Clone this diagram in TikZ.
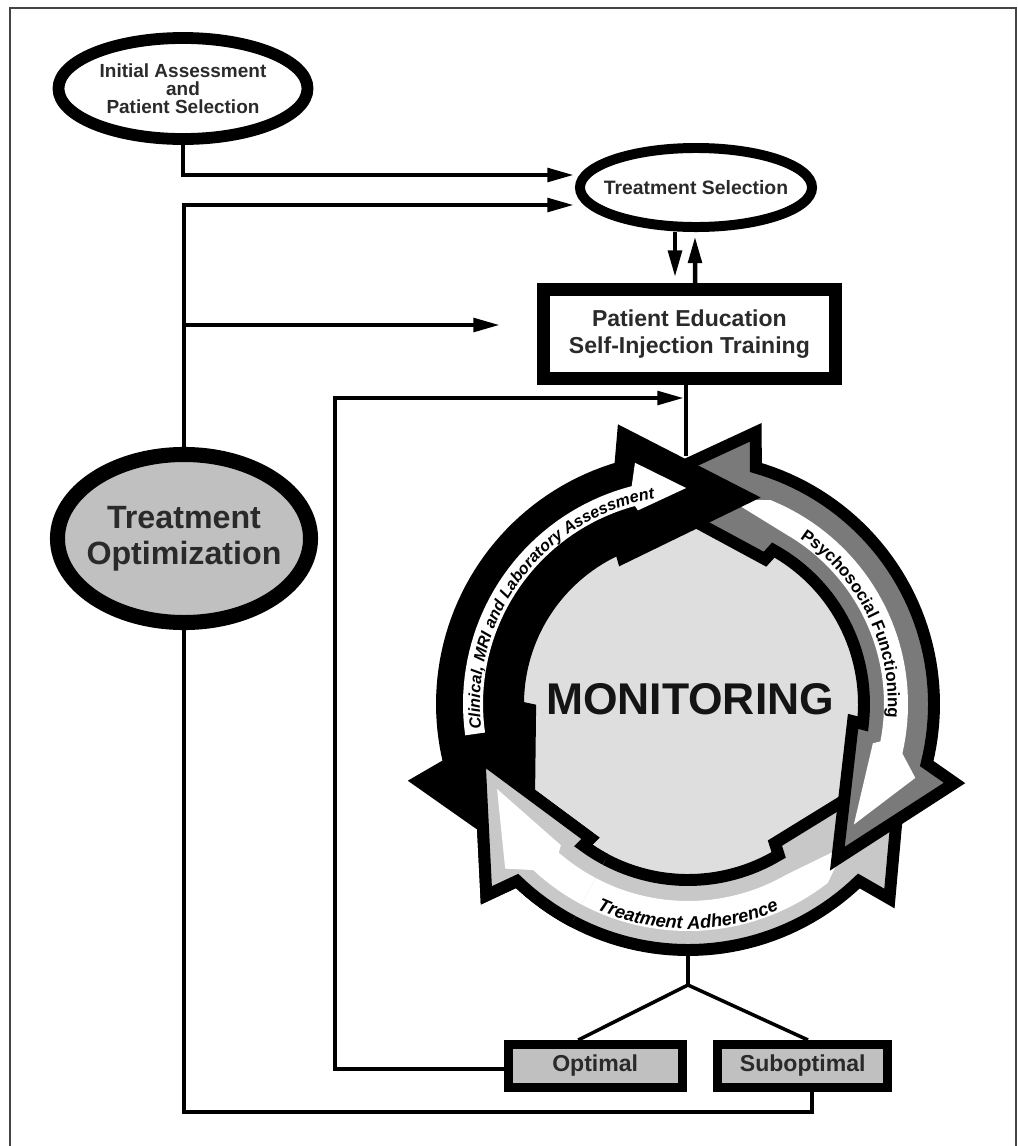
\documentclass[tikz,border=0pt]{standalone}
\usepackage{fontspec}
\setmainfont{Liberation Sans}
\usetikzlibrary{arrows.meta,shapes.geometric,decorations.text,calc}
\definecolor{txt}{HTML}{2A2A2A}
\definecolor{dgray}{HTML}{7A7A7A}
\definecolor{lgray}{HTML}{C8C8C8}
\definecolor{discgray}{HTML}{DEDEDE}
\definecolor{nodefill}{HTML}{C0C0C0}
\definecolor{framecol}{HTML}{444444}
% outline of one curved arrow (offset angle, inner radius); angles grow clockwise on screen
\newcommand{\ArrPath}[2]{%
  ({#1+254}:246) -- plot[domain=0:88,samples=45] ({#1+254-\x}:246)
  -- ({#1+164}:280) -- ({#1+136}:222) -- ({#1+178}:{#2-12}) -- ({#1+179}:#2)
  -- plot[domain=0:67.5,samples=35] ({#1+179+\x}:#2)
  -- ({#1+246}:{#2-10}) -- ({#1+286}:215) -- ({#1+256.5}:278) -- cycle}
% white inner band of a grey arrow (offset, inner r, outer r)
\newcommand{\WhitePath}[3]{%
  ({#1+172}:#3) -- plot[domain=0:81,samples=40] ({#1+172+\x}:#3)
  -- ({#1+258}:{#3+19}) -- ({#1+276}:{(#2+#3)/2-3}) -- ({#1+252}:{#2-7}) -- ({#1+251}:#2)
  -- plot[domain=0:71,samples=40] ({#1+251-\x}:#2) -- ({#1+162}:{(#2+#3)/2}) -- cycle}
\begin{document}
\begin{tikzpicture}[x=0.025cm,y=-0.025cm,
  conn/.style={line width=3.2pt},
  tipped/.style={-{Triangle[length=19pt,width=9.5pt]}},
  lbl/.style={text=txt,align=center,inner sep=0pt},
  ring/.style={draw=black,line width=8.5pt,miter limit=6}]
\useasboundingbox (0,0) rectangle (1018,1146);
\draw[framecol,line width=1.1pt] (10,1146) -- (10,8) -- (1016,8) -- (1016,1146);

% ---- nodes
\node[ellipse,draw,line width=8.4pt,minimum width=6.225cm,minimum height=2.525cm,inner sep=0pt,
  label={[lbl,font=\bfseries\fontsize{13.5}{12.8}\selectfont]center:Initial Assessment\\and\\Patient Selection}] (ia) at (183,88.5) {};
\node[ellipse,draw,line width=7.1pt,minimum width=5.8cm,minimum height=1.975cm,inner sep=0pt,
  label={[lbl,font=\bfseries\fontsize{13.8}{15}\selectfont]center:Treatment Selection}] (ts) at (696,187.5) {};
\node[draw,line width=8.9pt,minimum width=7.3cm,minimum height=2.23cm,inner sep=0pt,
  lbl,font=\bfseries\fontsize{16.4}{19.2}\selectfont] (pe) at (689.4,334.1) {Patient Education\\Self-Injection Training};
\node[ellipse,draw,fill=nodefill,line width=10.7pt,minimum width=6.325cm,minimum height=4.2cm,inner sep=0pt,
  label={[lbl,font=\bfseries\fontsize{22.9}{25.6}\selectfont]center:Treatment\\Optimization}] (to) at (184,538.5) {};
\node[draw,fill=nodefill,line width=6.4pt,minimum width=4.34cm,minimum height=1.075cm,inner sep=0pt,
  lbl,font=\bfseries\fontsize{16.4}{18}\selectfont] (opt) at (595.2,1066) {Optimal};
\node[draw,fill=nodefill,line width=6.4pt,minimum width=4.24cm,minimum height=1.075cm,inner sep=0pt,
  lbl,font=\bfseries\fontsize{16.4}{18}\selectfont] (sub) at (802.7,1066) {Suboptimal};

% ---- connector end points
\coordinate (ts1) at (574,175);
\coordinate (ts2) at (574,205);
\coordinate (br) at (184,325);
\coordinate (pe1) at (500,325);
\coordinate (mtop) at (686,456);
\coordinate (lp) at (335,398);
\coordinate (mt2) at (684,398);
\coordinate (mbot) at (688,955);
\coordinate (fork) at (688,985);
\coordinate (sbot) at (812,1112);

% ---- connectors
\draw[conn,tipped] (ia.south) |- (ts1);
\draw[conn,tipped] (to.north) |- (ts2);
\draw[conn,tipped] (br) -- (pe1);
\draw[conn,tipped,shorten >=4.3pt] ($(ts.south)+(-21,0)$) -- ($(pe.north)+(-14.4,0)$);
\draw[conn,tipped,shorten >=3.2pt] ($(pe.north)+(5.6,0)$) -- ($(ts.south)+(-1,0)$);
\draw[line width=2.8pt] ($(pe.south)+(-3.4,0)$) -- (mtop);
\draw[conn,tipped] ($(opt.west)+(0,3)$) -| (lp) -- (mt2);
\draw[conn] (to.south) |- (sbot) -- (sbot |- sub.south);
\draw[line width=2.5pt] (mbot) -- (fork) -- ($(opt.north)+(-17,0)$);
\draw[line width=2.5pt] (fork) -- ($(sub.north)+(5.3,0)$);

% ---- monitoring cycle
\node[circle,fill=discgray,minimum size=8.9cm,inner sep=0pt] (mon) at (688,704) {};
\begin{scope}[shift={(688,704)}]
  % bottom arrow
  \filldraw[ring,fill=lgray] \ArrPath{240}{176};
  \fill[white] \WhitePath{240}{197}{227};
  \path[decorate,decoration={text along path,text align=center,
     text={|\fontsize{13}{15}\selectfont\bfseries\itshape|Treatment Adherence}}]
     plot[domain=0:90,samples=60] ({135-\x}:225);
  % right arrow
  \filldraw[ring,fill=dgray] \ArrPath{120}{176};
  \fill[white] \WhitePath{120}{196}{220};
  \path[decorate,decoration={text along path,text align=center,
     text={|\fontsize{12}{14}\selectfont\bfseries|Psychosocial Functioning}}]
     plot[domain=0:100,samples=60] ({284+\x}:200);
  % left arrow
  \filldraw[ring,fill=black] \ArrPath{0}{170};
  \fill[white] (172:225) -- plot[domain=0:83.5,samples=40] ({172+\x}:225) -- (257.6:247)
     -- (269.5:216) -- (255.5:200) -- (255:205) -- plot[domain=0:83,samples=40] ({255-\x}:205) -- cycle;
  \path[decorate,decoration={text along path,text align=center,
     text={|\fontsize{11.5}{13}\selectfont\bfseries\itshape|Clinical, MRI and Laboratory Assessment}}]
     plot[domain=0:130,samples=80] ({152+\x}:208);
  % head of the bottom arrow lies over the tail of the left arrow
  \begin{scope}
    \clip (0,0) -- plot[domain=118:200,samples=20] (\x:330) -- cycle;
    \filldraw[ring,fill=lgray] \ArrPath{240}{176};
    \fill[white] \WhitePath{240}{197}{227};
  \end{scope}
\end{scope}
\node[font=\bfseries\fontsize{31.6}{36}\selectfont,text=black!92] (monlbl) at (690,699) {MONITORING};
\end{tikzpicture}
\end{document}
